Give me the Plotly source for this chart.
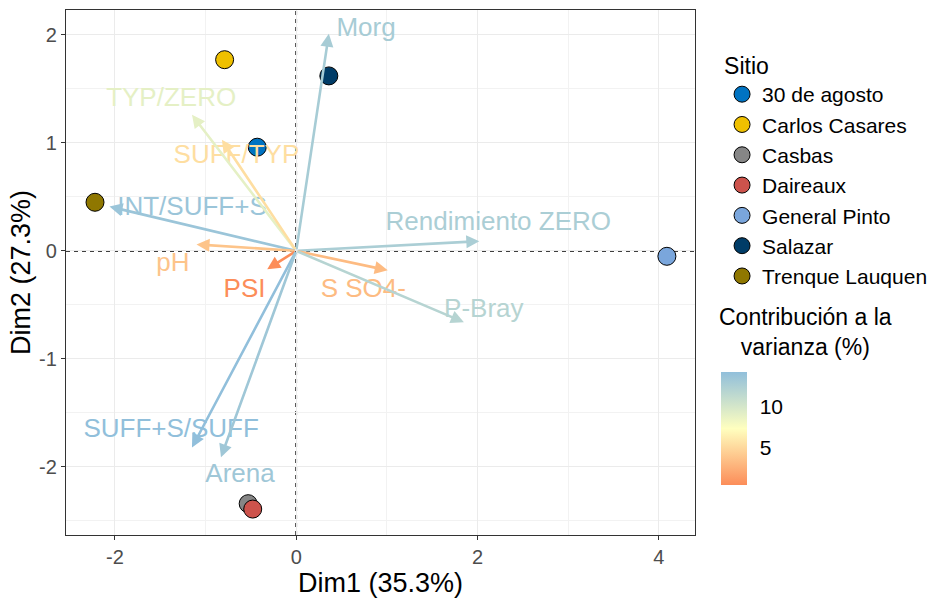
import plotly.graph_objects as go
from plotly.colors import sample_colorscale

# Individuals (sites) on the first two PCA dimensions
sites = ["30 de agosto", "Carlos Casares", "Casbas", "Daireaux",
         "General Pinto", "Salazar", "Trenque Lauquen"]
site_dim1 = [-0.43, -0.79, -0.53, -0.48, 4.09, 0.36, -2.22]
site_dim2 = [0.96, 1.77, -2.34, -2.39, -0.05, 1.62, 0.45]
site_colors = ["#0073C2", "#EFC000", "#868686", "#CD534C",
               "#7AA6DC", "#003C67", "#8F7700"]

# Variables: arrow tips, contribution (%) and label anchor
variables = ["Morg", "TYP/ZERO", "SUFF/TYP", "INT/SUFF+S", "pH", "PSI",
             "SUFF+S/SUFF", "Arena", "Rendimiento ZERO", "S SO4-", "P-Bray"]
var_dim1 = [0.36, -1.15, -0.82, -2.06, -1.10, -0.32, -1.15, -0.83, 2.02, 1.01, 1.85]
var_dim2 = [2.01, 1.26, 1.03, 0.41, 0.06, -0.17, -1.82, -1.91, 0.09, -0.18, -0.66]
var_contrib = [12.8, 8.9, 5.3, 13.6, 3.7, 0.4, 14.2, 13.3, 12.6, 3.2, 11.9]
label_dim1 = [0.77, -1.38, -0.66, -1.15, -1.36, -0.57, -1.38, -0.62, 2.23, 0.74, 2.07]
label_dim2 = [2.05, 1.40, 0.87, 0.39, -0.13, -0.37, -1.66, -2.08, 0.25, -0.37, -0.55]

# Axis ticks (plain hyphen for negatives)
x_ticks = [-2, 0, 2, 4]
x_tick_labels = ["-2", "0", "2", "4"]
y_ticks = [-2, -1, 0, 1, 2]
y_tick_labels = ["-2", "-1", "0", "1", "2"]
colorbar_ticks = [5, 10]

FONT = "Liberation Sans, Arial, sans-serif"
scale = [[0.0, "#FC8D59"], [0.5, "#FFFFBF"], [1.0, "#91BFDB"]]
cmin, cmax = min(var_contrib), max(var_contrib)
var_colors = sample_colorscale(scale, [(c - cmin) / (cmax - cmin) for c in var_contrib])

fig = go.Figure()

for name, x, y, col in zip(sites, site_dim1, site_dim2, site_colors):
    fig.add_trace(go.Scatter(
        x=[x], y=[y], mode="markers", name=name,
        marker=dict(size=18, color=col, line=dict(color="black", width=1)),
        hoverinfo="name",
    ))

# Invisible markers that carry the contribution colour bar
fig.add_trace(go.Scatter(
    x=var_dim1, y=var_dim2, mode="markers", showlegend=False, hoverinfo="skip",
    marker=dict(size=1, opacity=0, color=var_contrib, colorscale=scale,
                cmin=cmin, cmax=cmax, showscale=True,
                colorbar=dict(
                    x=1.041, xanchor="left", xpad=0, y=0.203, yanchor="middle",
                    len=133, lenmode="pixels", thickness=26, thicknessmode="pixels",
                    outlinewidth=0, tickvals=colorbar_ticks,
                    ticks="outside", ticklen=9, tickcolor="white",
                    tickfont=dict(family=FONT, size=21, color="black"),
                    title=dict(text=""),
                )),
))

# Variable labels
fig.add_trace(go.Scatter(
    x=label_dim1, y=label_dim2, mode="text", text=variables, showlegend=False,
    hoverinfo="skip",
    textfont=dict(family=FONT, size=26, color=var_colors),
))

annotations = []
for x, y, col in zip(var_dim1, var_dim2, var_colors):
    annotations.append(dict(
        x=x, y=y, ax=0, ay=0, xref="x", yref="y", axref="x", ayref="y",
        showarrow=True, arrowhead=2, arrowsize=1.0, arrowwidth=2.6,
        arrowcolor=col, text="",
    ))

annotations.append(dict(
    text="Contribución a la<br>varianza (%)", xref="paper", yref="paper",
    x=1.175, y=0.387, xanchor="center", yanchor="middle", align="center",
    showarrow=False, font=dict(family=FONT, size=23, color="black"),
))

fig.add_shape(type="line", x0=0, x1=0, y0=0, y1=1, xref="x", yref="paper",
              line=dict(color="black", width=1.7, dash="4px,4px"), layer="below")
fig.add_shape(type="line", x0=0, x1=1, y0=0, y1=0, xref="paper", yref="y",
              line=dict(color="black", width=1.7, dash="4px,4px"), layer="below")

axis_common = dict(
    showgrid=True, gridcolor="#EBEBEB", gridwidth=1.2,
    zeroline=False, showline=True, mirror=True, linecolor="#333333", linewidth=1.3,
    ticks="outside", ticklen=4, tickcolor="#333333",
    tickfont=dict(family=FONT, size=20, color="#4D4D4D"),
)

fig.update_layout(
    width=942, height=599,
    margin=dict(l=66, r=242, t=9, b=58),
    paper_bgcolor="white", plot_bgcolor="white",
    font=dict(family=FONT),
    xaxis=dict(range=[-2.54, 4.40], tickmode="array", tickvals=x_ticks, ticktext=x_tick_labels,
               minor=dict(dtick=1, tick0=0, showgrid=True, gridcolor="#F2F2F2", gridwidth=0.8),
               title=dict(text="Dim1 (35.3%)", font=dict(family=FONT, size=27, color="black"), standoff=3),
               **axis_common),
    yaxis=dict(range=[-2.63, 2.23], tickmode="array", tickvals=y_ticks, ticktext=y_tick_labels,
               minor=dict(dtick=0.5, tick0=0, showgrid=True, gridcolor="#F2F2F2", gridwidth=0.8),
               title=dict(text="Dim2 (27.3%)", font=dict(family=FONT, size=27, color="black"), standoff=0),
               **axis_common),
    legend=dict(
        x=1.043, xanchor="left", y=0.935, yanchor="top",
        title=dict(text="Sitio", font=dict(family=FONT, size=23, color="black")),
        font=dict(family=FONT, size=21, color="black"),
        itemsizing="trace", tracegroupgap=0,
    ),
    annotations=annotations,
)

fig.write_html("out.html")
